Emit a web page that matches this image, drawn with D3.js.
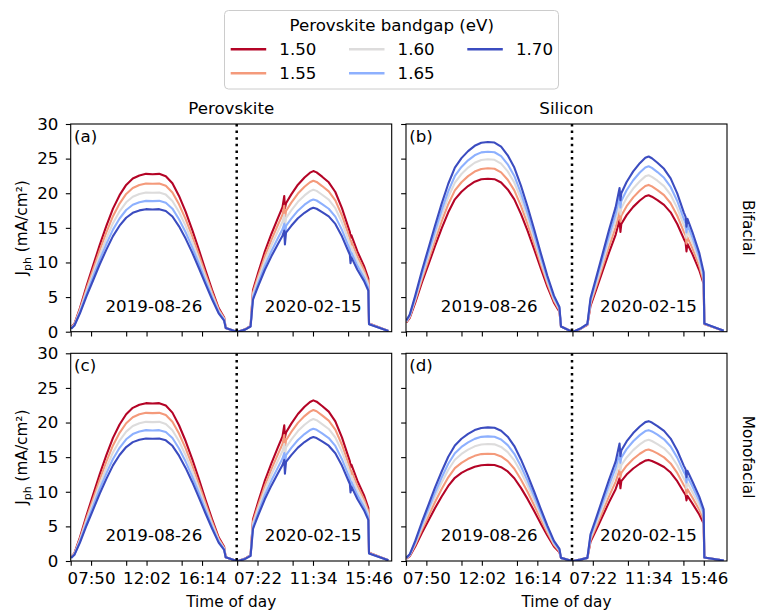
<!DOCTYPE html>
<html>
<head>
<meta charset="utf-8">
<script src="https://cdn.jsdelivr.net/npm/d3@7"></script>
<style>
  body { margin: 0; background: #fff; }
  svg { display: block; }
  text { font-family: "DejaVu Sans", "Liberation Sans", sans-serif; fill: #000; }
</style>
</head>
<body>
<svg id="chart" width="757" height="610"></svg>
<script>
// ---- data -------------------------------------------------------------
const bandgaps = ["1.50", "1.55", "1.60", "1.65", "1.70"];
const bandgapColors = ["#b40426", "#f49a7b", "#dddcdc", "#8db0fe", "#3b4cc0"];

// sample positions along the concatenated two-day record
const day1Index = [0, 15, 40, 70, 100, 130, 160, 190, 220, 250, 280, 310, 340, 370, 400, 430, 460, 490, 520, 550, 580, 610, 640, 670, 695, 702, 752];
const perovskiteDay2Index = [758, 790, 815, 826, 850, 880, 910, 940, 960, 968, 971, 976, 1000, 1030, 1060, 1085, 1100, 1115, 1140, 1170, 1200, 1230, 1260, 1266, 1269, 1273, 1300, 1330, 1350, 1353, 1441];
const siliconDay2Index = [758, 790, 822, 836, 860, 890, 920, 950, 968, 972, 976, 1000, 1030, 1060, 1085, 1100, 1115, 1140, 1170, 1200, 1230, 1260, 1268, 1272, 1276, 1300, 1330, 1350, 1353, 1441];
const dayBoundaryIndex = 752;

const timeTickIndex = [90.5, 342.5, 594.5, 846.5, 1098.5, 1350.5];
const timeTickLabels = ["07:50", "12:02", "16:14", "07:22", "11:34", "15:46"];
const sampleTickIndex = [-2, 250, 502, 754, 1006, 1258];
const currentTicks = [0, 5, 10, 15, 20, 25, 30];
const dayLabels = ["2019-08-26", "2020-02-15"];

// Jph (mA/cm2), one row per bandgap (1.50 ... 1.70)
const perovskiteBifacialDay1 = [
  [0.6, 1.14, 3.42, 6.61, 9.58, 12.54, 15.28, 17.78, 19.72, 21.2, 22.12, 22.57, 22.8, 22.75, 22.8, 22.46, 21.43, 19.61, 17.33, 14.71, 11.86, 8.89, 6.04, 3.42, 2.05, 0.55, 0],
  [0.54, 1.07, 3.21, 6.21, 8.99, 11.77, 14.34, 16.69, 18.51, 19.9, 20.76, 21.19, 21.4, 21.36, 21.4, 21.08, 20.12, 18.4, 16.26, 13.8, 11.13, 8.35, 5.67, 3.21, 1.92, 0.55, 0],
  [0.5, 1.0, 3.02, 5.83, 8.44, 11.06, 13.47, 15.68, 17.39, 18.69, 19.5, 19.9, 20.1, 20.06, 20.1, 19.8, 18.89, 17.29, 15.28, 12.96, 10.45, 7.84, 5.33, 3.02, 1.81, 0.55, 0],
  [0.47, 0.95, 2.84, 5.48, 7.94, 10.4, 12.66, 14.74, 16.35, 17.58, 18.33, 18.71, 18.9, 18.86, 18.9, 18.62, 17.77, 16.25, 14.36, 12.19, 9.83, 7.37, 5.01, 2.84, 1.7, 0.55, 0],
  [0.44, 0.89, 2.66, 5.13, 7.43, 9.74, 11.86, 13.81, 15.31, 16.46, 17.17, 17.52, 17.7, 17.66, 17.7, 17.43, 16.64, 15.22, 13.45, 11.42, 9.2, 6.9, 4.69, 2.66, 1.59, 0.55, 0]
];
const perovskiteBifacialDay2 = [
  [0, 0.35, 0.85, 6.03, 8.58, 11.6, 14.15, 16.47, 17.98, 19.6, 17.8, 18.56, 19.84, 21.23, 22.27, 22.97, 23.2, 23.01, 22.39, 21.58, 20.18, 17.86, 14.96, 14.38, 13.6, 13.92, 11.6, 9.51, 7.66, 1.2, 0.12],
  [0, 0.33, 0.8, 5.67, 8.07, 10.9, 13.3, 15.48, 16.9, 18.2, 16.3, 17.44, 18.64, 19.95, 20.93, 21.58, 21.8, 21.63, 21.04, 20.27, 18.97, 16.79, 14.06, 13.52, 12.4, 13.08, 10.9, 8.94, 7.19, 1.15, 0.11],
  [0, 0.32, 0.78, 5.33, 7.59, 10.25, 12.51, 14.56, 15.89, 16.9, 15.0, 16.4, 17.53, 18.76, 19.68, 20.3, 20.5, 20.34, 19.78, 19.07, 17.84, 15.79, 13.22, 12.71, 11.6, 12.3, 10.25, 8.41, 6.77, 1.12, 0.1],
  [0, 0.31, 0.76, 4.97, 7.07, 9.55, 11.65, 13.56, 14.8, 15.6, 13.8, 15.28, 16.33, 17.48, 18.34, 18.91, 19.1, 18.95, 18.43, 17.76, 16.62, 14.71, 12.32, 11.84, 10.7, 11.46, 9.55, 7.83, 6.3, 1.1, 0.1],
  [0, 0.3, 0.75, 4.65, 6.62, 8.95, 10.92, 12.71, 13.87, 14.6, 12.6, 14.32, 15.3, 16.38, 17.18, 17.72, 17.9, 17.76, 17.27, 16.65, 15.57, 13.78, 11.55, 11.1, 9.9, 10.74, 8.95, 7.34, 5.91, 1.08, 0.1]
];
// the perovskite top cell only sees front light, so its current is the same for both configurations
const perovskiteMonofacialDay1 = perovskiteBifacialDay1;
const perovskiteMonofacialDay2 = perovskiteBifacialDay2;

const siliconBifacialDay1 = [
  [1.33, 1.99, 4.2, 7.07, 9.72, 12.38, 14.92, 17.24, 19.12, 20.22, 21.04, 21.66, 22.01, 22.1, 22.03, 21.55, 20.55, 19.12, 17.02, 14.59, 11.93, 9.17, 6.52, 4.2, 2.87, 0.75, 0],
  [1.42, 2.12, 4.48, 7.55, 10.38, 13.22, 15.93, 18.41, 20.41, 21.59, 22.47, 23.13, 23.51, 23.6, 23.53, 23.01, 21.95, 20.41, 18.17, 15.58, 12.74, 9.79, 6.96, 4.48, 3.07, 0.75, 0],
  [1.49, 2.24, 4.73, 7.97, 10.96, 13.94, 16.81, 19.42, 21.54, 22.78, 23.7, 24.4, 24.8, 24.9, 24.83, 24.28, 23.16, 21.54, 19.17, 16.43, 13.45, 10.33, 7.35, 4.73, 3.24, 0.75, 0],
  [1.56, 2.34, 4.94, 8.32, 11.44, 14.56, 17.55, 20.28, 22.49, 23.79, 24.75, 25.48, 25.9, 26.0, 25.92, 25.35, 24.18, 22.49, 20.02, 17.16, 14.04, 10.79, 7.67, 4.94, 3.38, 0.75, 0],
  [1.64, 2.47, 5.21, 8.77, 12.06, 15.34, 18.5, 21.37, 23.7, 25.07, 26.08, 26.85, 27.29, 27.4, 27.32, 26.72, 25.48, 23.7, 21.1, 18.08, 14.8, 11.37, 8.08, 5.21, 3.56, 0.75, 0]
];
const siliconBifacialDay2 = [
  [0, 0.4, 1.0, 3.74, 5.91, 8.67, 11.43, 13.99, 16.15, 14.4, 15.56, 16.84, 18.03, 18.95, 19.56, 19.7, 19.5, 19.01, 18.32, 17.24, 15.56, 13.4, 12.9, 11.6, 12.71, 11.13, 8.87, 6.9, 1.1, 0.15],
  [0, 0.42, 1.05, 4.03, 6.36, 9.33, 12.3, 15.05, 17.38, 15.9, 16.75, 18.13, 19.4, 20.39, 21.05, 21.2, 20.99, 20.46, 19.72, 18.55, 16.75, 14.42, 13.89, 12.72, 13.67, 11.98, 9.54, 7.21, 1.12, 0.15],
  [0, 0.43, 1.08, 4.29, 6.78, 9.94, 13.11, 16.05, 18.53, 16.95, 17.85, 19.32, 20.68, 21.74, 22.44, 22.6, 22.37, 21.81, 21.02, 19.78, 17.85, 15.37, 14.8, 13.56, 14.58, 12.77, 10.17, 7.68, 1.15, 0.15],
  [0, 0.44, 1.1, 4.54, 7.17, 10.52, 13.86, 16.97, 19.6, 17.93, 18.88, 20.43, 21.87, 22.99, 23.73, 23.9, 23.66, 23.06, 22.23, 20.91, 18.88, 16.25, 15.65, 14.34, 15.42, 13.5, 10.76, 8.13, 1.17, 0.15],
  [0, 0.45, 1.12, 4.81, 7.59, 11.13, 14.67, 17.96, 20.75, 18.98, 19.99, 21.63, 23.15, 24.34, 25.12, 25.3, 25.05, 24.41, 23.53, 22.14, 19.99, 17.2, 16.57, 15.18, 16.32, 14.29, 11.39, 8.6, 1.2, 0.15]
];

const siliconMonofacialDay1 = [
  [0.35, 0.7, 2.09, 4.03, 5.84, 7.65, 9.31, 10.84, 12.02, 12.72, 13.23, 13.62, 13.84, 13.9, 13.86, 13.55, 12.93, 11.95, 10.56, 8.97, 7.23, 5.42, 3.68, 2.09, 1.25, 0.45, 0],
  [0.39, 0.78, 2.33, 4.5, 6.51, 8.53, 10.39, 12.09, 13.41, 14.18, 14.76, 15.19, 15.44, 15.5, 15.45, 15.11, 14.42, 13.33, 11.78, 10.0, 8.06, 6.05, 4.11, 2.33, 1.4, 0.45, 0],
  [0.42, 0.85, 2.54, 4.9, 7.1, 9.3, 11.32, 13.18, 14.62, 15.46, 16.09, 16.56, 16.83, 16.9, 16.85, 16.48, 15.72, 14.53, 12.84, 10.9, 8.79, 6.59, 4.48, 2.54, 1.52, 0.45, 0],
  [0.45, 0.9, 2.7, 5.22, 7.56, 9.9, 12.06, 14.04, 15.57, 16.47, 17.14, 17.64, 17.93, 18.0, 17.95, 17.55, 16.74, 15.48, 13.68, 11.61, 9.36, 7.02, 4.77, 2.7, 1.62, 0.45, 0],
  [0.48, 0.97, 2.9, 5.6, 8.11, 10.62, 12.93, 15.05, 16.69, 17.66, 18.37, 18.91, 19.22, 19.3, 19.24, 18.82, 17.95, 16.6, 14.67, 12.45, 10.04, 7.53, 5.11, 2.9, 1.74, 0.45, 0]
];
const siliconMonofacialDay2 = [
  [0, 0.2, 0.45, 2.77, 4.38, 6.42, 8.47, 10.37, 11.97, 10.5, 11.53, 12.48, 13.36, 14.05, 14.5, 14.6, 14.45, 14.09, 13.58, 12.78, 11.53, 9.93, 9.56, 8.76, 9.42, 8.25, 6.72, 5.4, 0.5, 0.05],
  [0, 0.2, 0.45, 3.06, 4.83, 7.08, 9.34, 11.43, 13.2, 12.08, 12.72, 13.77, 14.73, 15.49, 15.99, 16.1, 15.94, 15.54, 14.97, 14.09, 12.72, 10.95, 10.55, 9.66, 10.38, 9.1, 7.41, 5.96, 0.5, 0.05],
  [0, 0.2, 0.45, 3.33, 5.25, 7.7, 10.15, 12.43, 14.35, 13.13, 13.83, 14.96, 16.01, 16.84, 17.38, 17.5, 17.33, 16.89, 16.28, 15.31, 13.83, 11.9, 11.46, 10.5, 11.29, 9.89, 8.05, 6.48, 0.5, 0.05],
  [0, 0.2, 0.45, 3.59, 5.67, 8.32, 10.96, 13.42, 15.5, 14.18, 14.93, 16.16, 17.29, 18.18, 18.77, 18.9, 18.71, 18.24, 17.58, 16.54, 14.93, 12.85, 12.38, 11.34, 12.19, 10.68, 8.69, 6.99, 0.5, 0.05],
  [0, 0.2, 0.45, 3.84, 6.06, 8.89, 11.72, 14.34, 16.96, 15.15, 15.96, 17.27, 18.48, 19.43, 20.06, 20.2, 20.0, 19.49, 18.79, 17.68, 15.96, 13.74, 13.23, 12.12, 13.03, 11.41, 9.29, 7.47, 0.5, 0.05]
];

// ---- layout -----------------------------------------------------------
const svg = d3.select("#chart");
const colLeft = [70.7, 406];
const rowTop = [124, 353.3];
const panelW = 321, panelH = 207.7;
const fontMain = 16.67, fontLabel = 15.3;
const tickLen = 4.86;

const panels = [
  { tag: "(a)", col: 0, row: 0, d1: perovskiteBifacialDay1, d2: perovskiteBifacialDay2, idx2: perovskiteDay2Index },
  { tag: "(b)", col: 1, row: 0, d1: siliconBifacialDay1, d2: siliconBifacialDay2, idx2: siliconDay2Index },
  { tag: "(c)", col: 0, row: 1, d1: perovskiteMonofacialDay1, d2: perovskiteMonofacialDay2, idx2: perovskiteDay2Index },
  { tag: "(d)", col: 1, row: 1, d1: siliconMonofacialDay1, d2: siliconMonofacialDay2, idx2: siliconDay2Index }
];

const x = d3.scaleLinear().domain([-2, 1456]).range([0, panelW]);
const y = d3.scaleLinear().domain([0, 30]).range([panelH, 0]);

const defs = svg.append("defs");
defs.append("clipPath").attr("id", "plotClip")
  .append("rect").attr("x", 0).attr("y", 0).attr("width", panelW).attr("height", panelH);

const line = d3.line().x(d => x(d[0])).y(d => y(d[1]));

function styleAxis(g) {
  g.select(".domain").remove();
  g.selectAll(".tick line").attr("stroke", "#000").attr("stroke-width", 1.1);
  g.selectAll(".tick text").attr("font-size", fontMain)
    .attr("font-family", '"DejaVu Sans", sans-serif').attr("fill", "#000");
}

panels.forEach(p => {
  const g = svg.append("g")
    .attr("transform", `translate(${colLeft[p.col]},${rowTop[p.row]})`);

  // curves, lowest bandgap first so the 1.70 eV line sits on top
  const plot = g.append("g").attr("clip-path", "url(#plotClip)");
  bandgaps.forEach((bg, i) => {
    const pts = day1Index.map((u, k) => [u, p.d1[i][k]])
      .concat(p.idx2.map((u, k) => [u, p.d2[i][k]]));
    plot.append("path")
      .attr("d", line(pts))
      .attr("fill", "none")
      .attr("stroke", bandgapColors[i])
      .attr("stroke-width", 2.1)
      .attr("stroke-linejoin", "round");
  });

  // boundary between the two days
  g.append("line")
    .attr("x1", x(dayBoundaryIndex)).attr("x2", x(dayBoundaryIndex))
    .attr("y1", 0).attr("y2", panelH)
    .attr("stroke", "#000").attr("stroke-width", 2.5)
    .attr("stroke-dasharray", "2.5 4.1");

  // axes
  const xAxisMajor = d3.axisBottom(x).tickValues(timeTickIndex).tickSize(tickLen).tickPadding(6.5)
    .tickFormat((d, i) => p.row === 1 ? timeTickLabels[i] : "");
  const xAxisMinor = d3.axisBottom(x).tickValues(sampleTickIndex).tickSize(tickLen).tickFormat("");
  g.append("g").attr("transform", `translate(0,${panelH})`).call(xAxisMajor).call(styleAxis);
  g.append("g").attr("transform", `translate(0,${panelH})`).call(xAxisMinor).call(styleAxis);

  const yAxis = d3.axisLeft(y).tickValues(currentTicks).tickSize(tickLen).tickPadding(7.5)
    .tickFormat(d => p.col === 0 ? d : "");
  g.append("g").call(yAxis).call(styleAxis);

  // frame
  g.append("rect").attr("x", 0).attr("y", 0).attr("width", panelW).attr("height", panelH)
    .attr("fill", "none").attr("stroke", "#000").attr("stroke-width", 1.1);

  // panel tag and day labels
  g.append("text").attr("x", 3.3).attr("y", 18).attr("font-size", fontMain).text(p.tag);
  const dayRanges = [
    [day1Index[0], day1Index[day1Index.length - 1]],
    [p.idx2[0], p.idx2[p.idx2.length - 1]]
  ];
  dayLabels.forEach((lab, j) => {
    g.append("text")
      .attr("x", x((dayRanges[j][0] + dayRanges[j][1]) / 2))
      .attr("y", panelH - 19.5)
      .attr("text-anchor", "middle").attr("font-size", fontMain).text(lab);
  });
});

// column and row titles
const colCenter = c => colLeft[c] + panelW / 2;
const rowCenter = r => rowTop[r] + panelH / 2;
svg.append("text").attr("x", colCenter(0)).attr("y", 114).attr("text-anchor", "middle")
  .attr("font-size", fontMain).text("Perovskite");
svg.append("text").attr("x", colCenter(1)).attr("y", 114).attr("text-anchor", "middle")
  .attr("font-size", fontMain).text("Silicon");

["Bifacial", "Monofacial"].forEach((lab, r) => {
  svg.append("text")
    .attr("transform", `translate(748,${rowCenter(r)}) rotate(90)`)
    .attr("text-anchor", "middle").attr("dy", "0.35em")
    .attr("font-size", fontLabel).text(lab);
});

[0, 1].forEach(r => {
  const t = svg.append("text")
    .attr("transform", `translate(21.5,${rowCenter(r)}) rotate(-90)`)
    .attr("text-anchor", "middle").attr("dy", "0.35em")
    .attr("font-size", fontLabel);
  t.append("tspan").text("J");
  t.append("tspan").attr("font-size", 11).attr("dy", 4).text("ph");
  t.append("tspan").attr("dy", -4).text(" (mA/cm²)");
});

[0, 1].forEach(c => {
  svg.append("text").attr("x", colCenter(c)).attr("y", 607)
    .attr("text-anchor", "middle").attr("font-size", fontLabel).text("Time of day");
});

// legend
const legend = svg.append("g");
legend.append("rect").attr("x", 224.5).attr("y", 10.5).attr("width", 334).attr("height", 78.5)
  .attr("rx", 4).attr("fill", "#fff").attr("stroke", "#cccccc").attr("stroke-width", 1);
legend.append("text").attr("x", 391.7).attr("y", 30.5).attr("text-anchor", "middle")
  .attr("font-size", fontMain).text("Perovskite bandgap (eV)");
const legendCols = [230.7, 349, 467.3];
const legendRows = [49.3, 73.3];
bandgaps.forEach((bg, i) => {
  const cx = legendCols[Math.floor(i / 2)];
  const cy = legendRows[i % 2];
  legend.append("line").attr("x1", cx).attr("x2", cx + 35.5).attr("y1", cy).attr("y2", cy)
    .attr("stroke", bandgapColors[i]).attr("stroke-width", 2.6);
  legend.append("text").attr("x", cx + 48.6).attr("y", cy + 6).attr("font-size", fontMain).text(bg);
});
</script>
</body>
</html>
